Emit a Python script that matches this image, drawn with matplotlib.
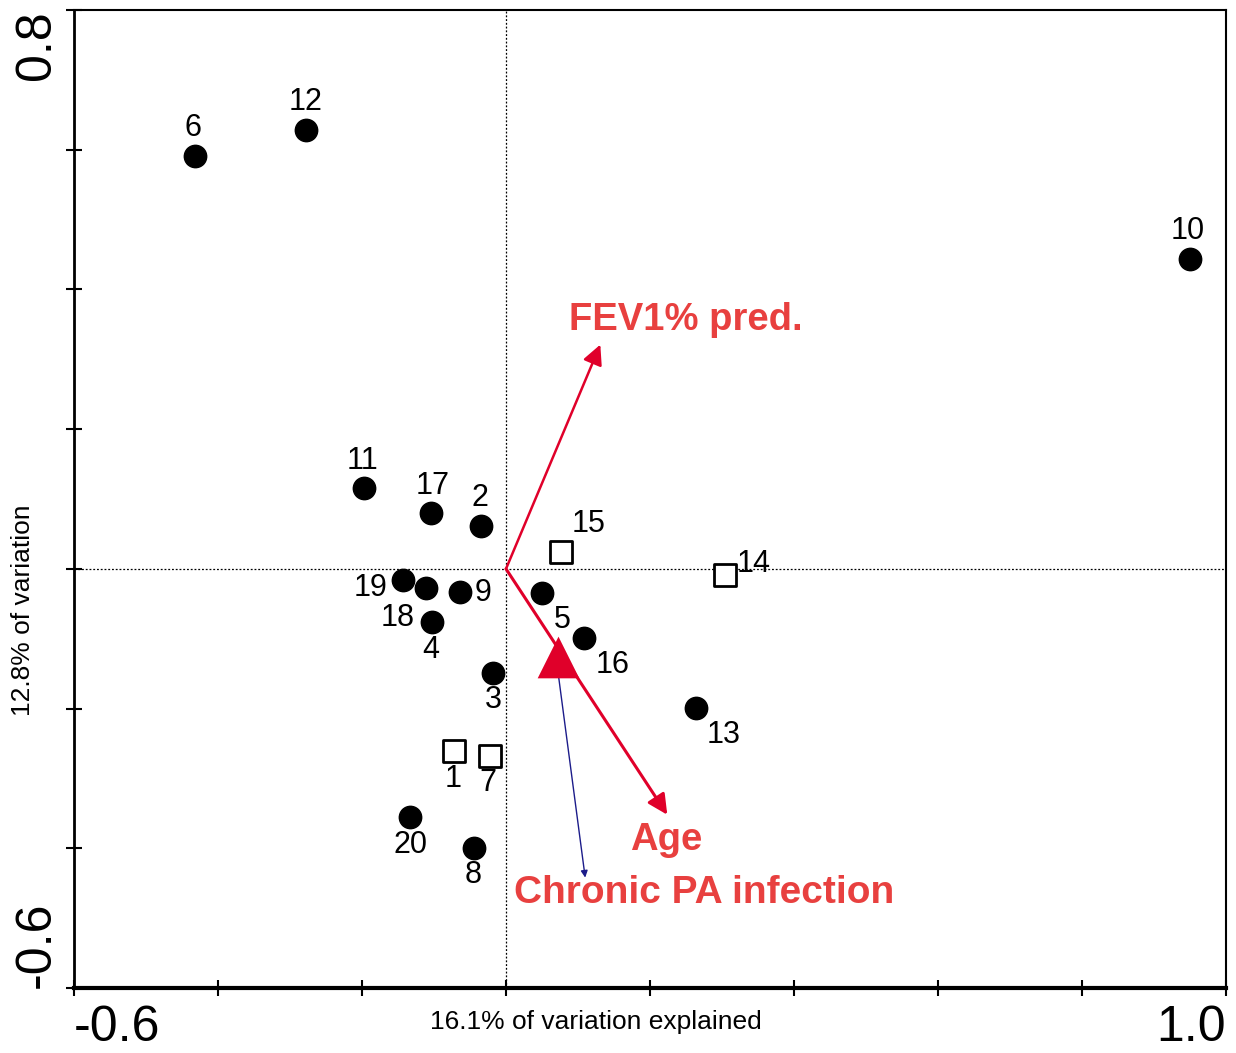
import numpy as np
import matplotlib.pyplot as plt

plt.rcParams['font.family'] = ['Liberation Sans', 'DejaVu Sans']

# sample scores on the first two axes
circle_ids = ['6', '12', '10', '11', '17', '2', '19', '18', '9', '4', '5', '16', '3', '13', '20', '8']
circle_x = [-0.432, -0.278, 0.950, -0.197, -0.104, -0.035, -0.143, -0.111, -0.064, -0.103, 0.050, 0.108, -0.018, 0.264, -0.133, -0.044]
circle_y = [0.591, 0.628, 0.444, 0.116, 0.080, 0.062, -0.016, -0.027, -0.033, -0.076, -0.034, -0.099, -0.149, -0.199, -0.355, -0.399]

square_ids = ['15', '14', '1', '7']
square_x = [0.076, 0.304, -0.072, -0.022]
square_y = [0.024, -0.009, -0.261, -0.268]

# environmental variables
fev_xy = (0.131, 0.321)
age_xy = (0.224, -0.352)
pa_centroid = (0.072, -0.126)
pa_tip = (0.110, -0.442)

x_ticks = [-0.6, -0.4, -0.2, 0.0, 0.2, 0.4, 0.6, 0.8, 1.0]
y_ticks = [-0.6, -0.4, -0.2, 0.0, 0.2, 0.4, 0.6, 0.8]

# label offsets (pixels) for each sample number
offsets = {
    '6': (-2, 28), '12': (0, 28), '10': (-2, 28), '11': (-2, 27), '17': (2, 27),
    '2': (-1, 28), '19': (-32, -8), '18': (-28, -30), '9': (23, -1), '4': (-1, -28),
    '5': (20, -27), '16': (29, -27), '3': (0, -27), '13': (28, -27), '20': (0, -28),
    '8': (-1, -27), '15': (28, 28), '14': (29, 11), '1': (-1, -28), '7': (-2, -27),
}

fig = plt.figure(figsize=(12.36, 10.53), dpi=100)
ax = fig.add_axes([74 / 1236, 65 / 1053, 1152 / 1236, 978 / 1053])
ax.set_xlim(-0.6, 1.0)
ax.set_ylim(-0.6, 0.8)

ax.axvline(0, color='black', lw=0.9, ls=(0, (1.5, 1.5)), zorder=1)
ax.axhline(0, color='black', lw=0.9, ls=(0, (1.5, 1.5)), zorder=1)

red = '#e0002a'
ax.annotate('', xy=fev_xy, xytext=(0, 0),
            arrowprops=dict(arrowstyle='-|>', color=red, lw=1.8, mutation_scale=30, shrinkA=0, shrinkB=0))
ax.annotate('', xy=age_xy, xytext=(0, 0),
            arrowprops=dict(arrowstyle='-|>', color=red, lw=2.2, mutation_scale=30, shrinkA=0, shrinkB=0))
ax.annotate('', xy=pa_tip, xytext=(pa_centroid[0], pa_centroid[1] - 0.02),
            arrowprops=dict(arrowstyle='-|>', color='#1c1c8a', lw=1.0, mutation_scale=10, shrinkA=0, shrinkB=0))
ax.scatter([pa_centroid[0]], [pa_centroid[1]], marker='^', s=900, color=red, zorder=4, linewidths=0)

ax.scatter(circle_x, circle_y, s=260, color='black', zorder=5)
ax.scatter(square_x, square_y, s=260, marker='s', facecolor='white', edgecolor='black', linewidths=2, zorder=5)

for sid, x, y in zip(circle_ids + square_ids, circle_x + square_x, circle_y + square_y):
    ax.annotate(sid, (x, y), xytext=offsets[sid], textcoords='offset pixels',
                ha='center', va='center', fontsize=22, color='black', zorder=6)

txt_red = '#e8403f'
ax.text(0.250, 0.356, 'FEV1% pred.', color=txt_red, fontsize=27.5,
        fontweight='bold', ha='center', va='center')
ax.text(0.222, -0.388, 'Age', color=txt_red, fontsize=27.5,
        fontweight='bold', ha='center', va='center')
ax.text(0.275, -0.464, 'Chronic PA infection', color=txt_red, fontsize=28,
        fontweight='bold', ha='center', va='center')

ax.set_xticks(x_ticks)
ax.set_xticklabels(['-0.6'] + [''] * 7 + ['1.0'], fontsize=36)
ax.set_yticks(y_ticks)
ax.set_yticklabels(['-0.6'] + [''] * 6 + ['0.8'], fontsize=36, rotation=90)
xl = ax.get_xticklabels()
xl[0].set_ha('left')
xl[-1].set_ha('right')
yl = ax.get_yticklabels()
yl[0].set_va('bottom')
yl[-1].set_va('top')
ax.tick_params(axis='both', direction='inout', length=12, width=1.5, pad=4)
ax.tick_params(axis='x', pad=6)

for s in ax.spines.values():
    s.set_linewidth(1.5)
ax.spines['bottom'].set_linewidth(3)
ax.spines['left'].set_linewidth(2)

ax.set_xlabel('16.1% of variation explained', fontsize=19)
ax.xaxis.set_label_coords((596 - 74) / 1152, -0.022)
ax.set_ylabel('12.8% of variation', fontsize=19)
ax.yaxis.set_label_coords(-0.034, (1053 - 65 - 610) / 978)

fig.savefig('out.png', dpi=100)
